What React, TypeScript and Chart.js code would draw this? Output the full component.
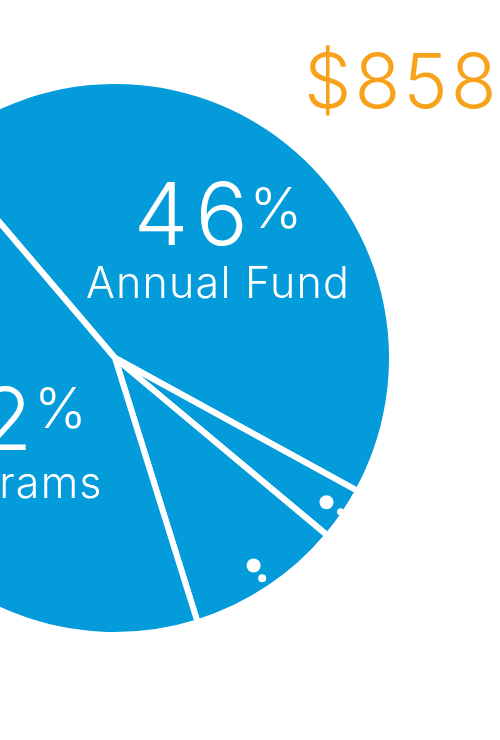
import React, { useEffect, useRef } from "react";
import { Chart, registerables } from "chart.js";

Chart.register(...registerables);

const categories: string[] = ["Annual Fund", "Other A", "Other B", "Programs"];
const shares: number[] = [44.2, 3.1, 9.1, 43.6];
const pctLabels: string[] = ["46", "", "", "42"];
const nameLabels: string[] = ["Annual Fund", "", "", "Programs"];
const totalLabel = "$858";

const BLUE = "#039BD9";
const ORANGE = "#F7A21B";
const FONT = "Inter, 'Open Sans', sans-serif";

const labelPlugin = {
  id: "pieLabels",
  afterDatasetsDraw(chart: any) {
    const meta = chart.getDatasetMeta(0);
    const arc0 = meta.data[0];
    if (!arc0) return;
    const cx = arc0.x;
    const cy = arc0.y;
    const ctx = chart.ctx;
    const R = arc0.outerRadius;
    ctx.save();
    // small bubble dots in the narrow slices
    const dots: { [k: number]: number[][] } = {
      1: [[R - 21, 7], [R - 4, 3.5]],
      2: [[R - 27.5, 7], [R - 12, 4]],
    };
    Object.keys(dots).forEach((k) => {
      const i = Number(k);
      const a: any = meta.data[i];
      const mid = (a.startAngle + a.endAngle) / 2;
      dots[i].forEach(([d, r]) => {
        ctx.beginPath();
        ctx.fillStyle = "#ffffff";
        ctx.arc(cx + Math.cos(mid) * d, cy + Math.sin(mid) * d, r, 0, Math.PI * 2);
        ctx.fill();
      });
    });
    // percentage + name labels
    const placements: { [k: number]: { dx: number; numBase: number; nameBase: number; pctLift: number } } = {
      0: { dx: 103, numBase: -113, nameBase: -60, pctLift: 17 },
      3: { dx: -113, numBase: 92, nameBase: 140, pctLift: 22 },
    };
    const NUM_LS = 7;
    ctx.fillStyle = "#ffffff";
    ctx.textBaseline = "alphabetic";
    Object.keys(placements).forEach((k) => {
      const i = Number(k);
      const p = placements[i];
      const numFont = `300 87px ${FONT}`;
      const pctFont = `300 56px ${FONT}`;
      ctx.font = numFont;
      (ctx as any).letterSpacing = `${NUM_LS}px`;
      const wn = ctx.measureText(pctLabels[i]).width - NUM_LS;
      (ctx as any).letterSpacing = "0px";
      ctx.font = pctFont;
      const wp = ctx.measureText("%").width;
      const gap = 2;
      const total = wn + gap + wp;
      const left = cx + p.dx - total / 2;
      ctx.textAlign = "left";
      ctx.font = numFont;
      (ctx as any).letterSpacing = `${NUM_LS}px`;
      ctx.fillText(pctLabels[i], left, cy + p.numBase);
      (ctx as any).letterSpacing = "0px";
      ctx.font = pctFont;
      ctx.fillText("%", left + wn + gap, cy + p.numBase - p.pctLift);
      ctx.font = `300 43px ${FONT}`;
      (ctx as any).letterSpacing = "1.2px";
      ctx.textAlign = "center";
      ctx.fillText(nameLabels[i], cx + p.dx, cy + p.nameBase);
      (ctx as any).letterSpacing = "0px";
    });
    ctx.restore();
  },
};

export default function App() {
  const ref = useRef<HTMLCanvasElement | null>(null);
  useEffect(() => {
    if (!ref.current) return;
    const chart = new Chart(ref.current, {
      type: "pie",
      data: {
        labels: categories,
        datasets: [
          {
            data: shares,
            backgroundColor: BLUE,
            borderColor: "#ffffff",
            borderWidth: 6,
            clip: false as any,
          },
        ],
      },
      options: {
        animation: false,
        responsive: false,
        devicePixelRatio: 1,
        rotation: -40.4,
        radius: 277,
        layout: { padding: { left: 0, right: 270, top: 0, bottom: 24 } },
        plugins: {
          legend: { display: false },
          tooltip: { enabled: false },
          title: { display: false },
        },
      } as any,
      plugins: [labelPlugin],
    });
    return () => chart.destroy();
  }, []);
  return (
    <div
      style={{
        position: "absolute",
        left: 0,
        top: 0,
        width: 500,
        height: 740,
        overflow: "hidden",
        background: "#ffffff",
      }}
    >
      <canvas ref={ref} width={500} height={740} style={{ position: "absolute", left: 0, top: 0 }} />
      <div
        style={{
          position: "absolute",
          left: 304,
          top: 31,
          fontFamily: FONT,
          fontWeight: 300,
          fontSize: 75,
          letterSpacing: "3px",
          lineHeight: "100px",
          color: ORANGE,
          whiteSpace: "nowrap",
        }}
      >
        {totalLabel}
      </div>
    </div>
  );
}
